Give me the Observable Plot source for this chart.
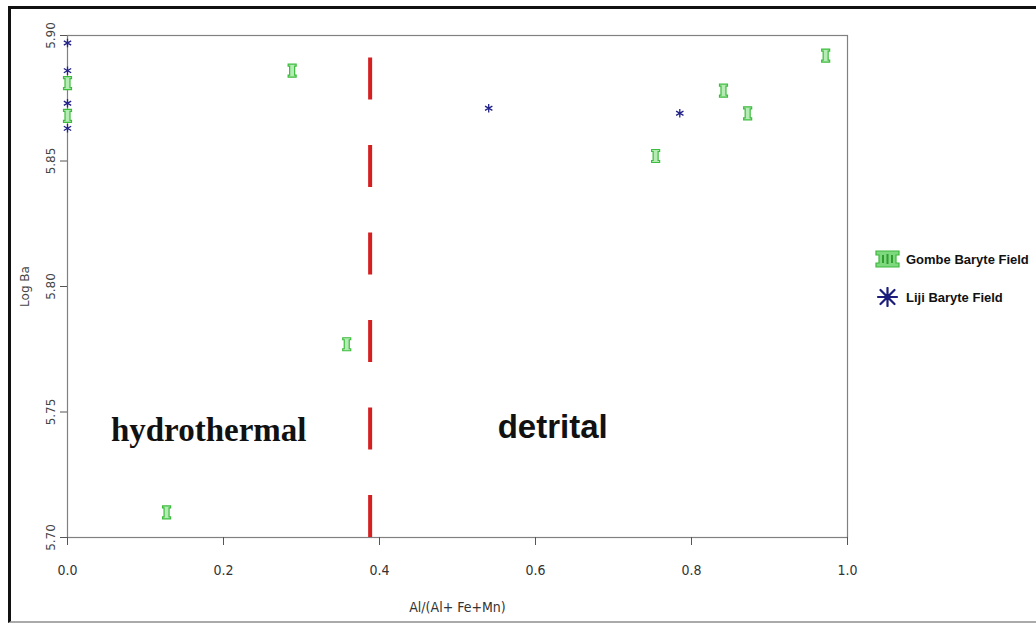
<!DOCTYPE html>
<html>
<head>
<meta charset="utf-8">
<script src="https://cdn.jsdelivr.net/npm/d3@7"></script>
<script src="https://cdn.jsdelivr.net/npm/@observablehq/plot@0.6"></script>
<style>
  html, body { margin: 0; padding: 0; background: #fff; overflow: hidden; }
  #wrap { position: relative; width: 1036px; height: 623px; overflow: hidden; }
  #frame { position: absolute; left: 8px; top: 6px; width: 1100px; height: 612px;
           border-left: 3px solid #111; border-top: 3px solid #111; border-bottom: 2px solid #aaa;
           pointer-events: none; }
  .leg { position: absolute; left: 875px; display: flex; align-items: center;
         font: bold 13px "Liberation Sans", Arial, sans-serif; color: #111; white-space: nowrap; }
  .leg svg { margin-right: 6px; }
  #chart g[aria-label="x-axis tick label"], #chart g[aria-label="x-axis label"] { font-stretch: condensed; }
</style>
</head>
<body>
<div id="wrap">
  <div id="chart"></div>
  <div id="frame"></div>
  <div class="leg" style="top:250px">
    <svg width="25" height="18" viewBox="0 0 25 18">
      <path d="M1,1 H24 V5 H21 V13 H24 V17 H1 V13 H4 V5 H1 Z" fill="#7ed87e" stroke="#3cb83c" stroke-width="1.2"/>
      <path d="M8,5 V13 M12.5,4 V14 M17,5 V13" stroke="#2f9e2f" stroke-width="2"/>
    </svg>
    <span id="lg1"></span>
  </div>
  <div class="leg" style="top:287px">
    <svg width="25" height="20" viewBox="0 0 25 20">
      <g stroke="#1c1c7a" stroke-width="2.2" stroke-linecap="round">
        <path d="M12.5,1 V19 M3,10 H22 M5.5,3 L19.5,17 M19.5,3 L5.5,17"/>
      </g>
      <circle cx="12.5" cy="10" r="3" fill="#1c1c7a"/>
    </svg>
    <span id="lg2"></span>
  </div>
</div>
<script>
// ---- data ----
const seriesNames = ["Gombe Baryte Field", "Liji Baryte Field"];
const gombeX = [0, 0, 0.127, 0.288, 0.358, 0.754, 0.841, 0.872, 0.972];
const gombeY = [5.881, 5.868, 5.710, 5.886, 5.777, 5.852, 5.878, 5.869, 5.892];
const lijiX = [0, 0, 0, 0, 0.540, 0.785];
const lijiY = [5.897, 5.886, 5.873, 5.863, 5.871, 5.869];
const boundaryX = 0.388;
const boundaryY = [5.70, 5.891];
const xTicks = [0, 0.2, 0.4, 0.6, 0.8, 1.0];
const yTicks = [5.70, 5.75, 5.80, 5.85, 5.90];
const regionLabels = ["hydrothermal", "detrital"];
const regionX = [0.181, 0.622];
const regionY = [5.7428, 5.744];
const xLabel = "Al/(Al+ Fe+Mn)";
const yLabel = "Log Ba";

document.getElementById("lg1").textContent = seriesNames[0];
document.getElementById("lg2").textContent = seriesNames[1];

const gombe = gombeX.map((x, i) => ({x, y: gombeY[i]}));
const liji = lijiX.map((x, i) => ({x, y: lijiY[i]}));

const gombeSymbol = {
  draw(ctx) {
    const w = 4, h = 6.5, n = 1.5, b = 2;
    ctx.moveTo(-w, -h); ctx.lineTo(w, -h); ctx.lineTo(w, -h + b);
    ctx.lineTo(w - n, -h + b); ctx.lineTo(w - n, h - b); ctx.lineTo(w, h - b);
    ctx.lineTo(w, h); ctx.lineTo(-w, h); ctx.lineTo(-w, h - b);
    ctx.lineTo(-w + n, h - b); ctx.lineTo(-w + n, -h + b); ctx.lineTo(-w, -h + b);
    ctx.closePath();
  }
};

const narrow = "'DejaVu Sans Condensed', 'Liberation Sans Narrow', 'Arial Narrow', sans-serif";

const chart = Plot.plot({
  width: 1036,
  height: 623,
  marginLeft: 67,
  marginRight: 189,
  marginTop: 35,
  marginBottom: 86,
  x: {domain: [0, 1]},
  y: {domain: [5.70, 5.90]},
  style: {background: "transparent"},
  marks: [
    Plot.frame({stroke: "#808080", strokeWidth: 1.2}),
    Plot.axisX({
      ticks: xTicks, tickFormat: d3.format(".1f"), tickSize: 8, tickPadding: 20,
      stroke: "#555", fill: "#333", fontSize: 14,
      fontFamily: narrow,
      label: xLabel, labelAnchor: "center", labelOffset: 74, labelArrow: "none"
    }),
    Plot.axisY({
      ticks: yTicks, tickFormat: d3.format(".2f"), tickSize: 7, tickPadding: 6,
      tickRotate: -90, stroke: "#555", fill: "#444", fontSize: 12,
      fontFamily: "'DejaVu Sans', Verdana, sans-serif",
      label: yLabel, labelAnchor: "center", labelOffset: 47, labelArrow: "none"
    }),
    Plot.ruleX([boundaryX], {
      y1: boundaryY[0], y2: boundaryY[1],
      stroke: "#d42020", strokeWidth: 4, strokeDasharray: "42,45.5"
    }),
    Plot.text([0], {
      x: () => regionX[0], y: () => regionY[0], text: () => regionLabels[0],
      fontSize: 33, fontWeight: "bold", fill: "#111",
      fontFamily: "'Liberation Serif', 'Times New Roman', serif"
    }),
    Plot.text([1], {
      x: () => regionX[1], y: () => regionY[1], text: () => regionLabels[1],
      fontSize: 33, fontWeight: "bold", fill: "#111",
      fontFamily: "'Liberation Sans', Arial, sans-serif"
    }),
    Plot.dot(gombe, {
      x: "x", y: "y", symbol: gombeSymbol, r: 4,
      fill: "#b5ebb5", stroke: "#3cbc3c", strokeWidth: 1.2
    }),
    Plot.dot(liji, {
      x: "x", y: "y", symbol: "asterisk", r: 4,
      stroke: "#22228a", strokeWidth: 1.3
    })
  ]
});
document.getElementById("chart").appendChild(chart);
</script>
</body>
</html>
